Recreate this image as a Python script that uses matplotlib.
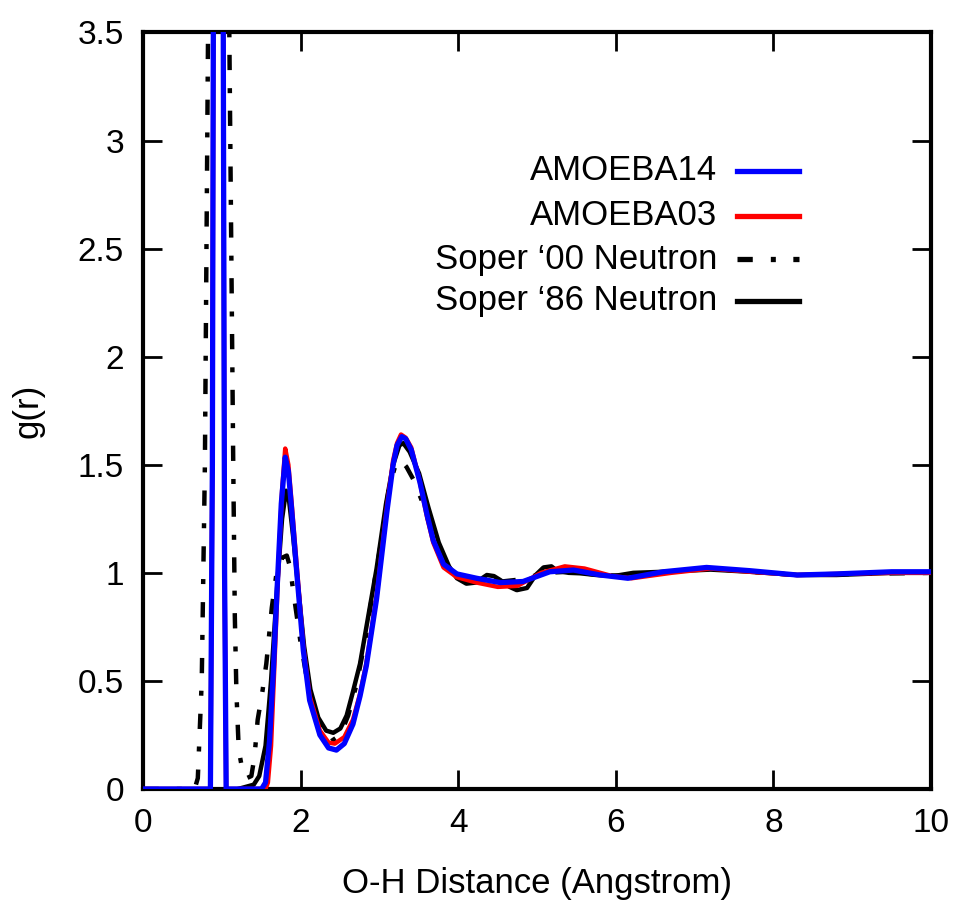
import matplotlib
matplotlib.use("Agg")
import matplotlib.pyplot as plt
from matplotlib.ticker import FuncFormatter

plt.rcParams['font.family'] = ['Liberation Sans', 'DejaVu Sans']
plt.rcParams['lines.scale_dashes'] = False

# AMOEBA14 O-H g(r)
r_a14 = [0, 0.85, 0.875, 0.89, 0.95, 1.01, 1.03, 1.05, 1.50, 1.55, 1.60, 1.65, 1.70,
         1.75, 1.80, 1.84, 1.88, 1.94, 2.03, 2.11, 2.24, 2.35, 2.45, 2.55, 2.66, 2.75,
         2.83, 2.96, 3.09, 3.17, 3.22, 3.28, 3.33, 3.40, 3.51, 3.60, 3.68, 3.81, 3.98,
         4.23, 4.53, 4.82, 5.16, 5.46, 5.80, 6.15, 6.6, 7.15, 7.7, 8.3, 8.8, 9.5, 10.0]
g_a14 = [0, 0, 1.5, 4.0, 12.0, 4.0, 1.0, 0, 0, 0.03, 0.22, 0.55, 0.95,
         1.32, 1.535, 1.47, 1.30, 1.03, 0.64, 0.41, 0.25, 0.19, 0.18, 0.21, 0.30, 0.43,
         0.57, 0.88, 1.28, 1.50, 1.59, 1.63, 1.62, 1.57, 1.42, 1.27, 1.15, 1.04, 0.995,
         0.975, 0.955, 0.96, 1.005, 1.013, 0.99, 0.975, 1.005, 1.025, 1.01, 0.99, 0.995, 1.005, 1.005]

# AMOEBA03
r_a03 = [0, 0.85, 0.875, 0.89, 0.95, 1.01, 1.03, 1.05, 1.55, 1.58, 1.62, 1.66, 1.71,
         1.76, 1.80, 1.84, 1.88, 1.94, 2.03, 2.11, 2.24, 2.35, 2.43, 2.55, 2.66, 2.75,
         2.83, 2.96, 3.09, 3.17, 3.22, 3.27, 3.33, 3.40, 3.51, 3.60, 3.68, 3.81, 3.98,
         4.23, 4.50, 4.75, 5.05, 5.35, 5.6, 5.95, 6.2, 6.7, 7.2, 7.7, 8.3, 8.8, 9.5, 10.0]
g_a03 = [0, 0, 1.5, 4.0, 12.0, 4.0, 1.0, 0, 0, 0.03, 0.20, 0.55, 1.0,
         1.38, 1.575, 1.50, 1.33, 1.06, 0.66, 0.43, 0.27, 0.215, 0.21, 0.24, 0.32, 0.44,
         0.58, 0.89, 1.30, 1.52, 1.60, 1.64, 1.625, 1.58, 1.42, 1.26, 1.14, 1.025, 0.98,
         0.955, 0.935, 0.94, 1.0, 1.03, 1.02, 0.985, 0.975, 1.0, 1.02, 1.005, 0.99, 0.995, 1.0, 1.0]

# Soper 2000 neutron
r_s00 = [0, 0.65, 0.69, 0.74, 0.78, 0.82, 0.85, 0.95, 1.05, 1.09, 1.14, 1.16, 1.18,
         1.21, 1.26, 1.31, 1.37, 1.41, 1.45, 1.51, 1.56, 1.63, 1.69, 1.76, 1.82, 1.86,
         1.90, 1.99, 2.07, 2.15, 2.25, 2.38, 2.50, 2.60, 2.71, 2.82, 2.92, 3.03, 3.12,
         3.21, 3.27, 3.34, 3.43, 3.55, 3.68, 3.82, 3.95, 4.1, 4.3, 4.55, 4.8, 5.1, 5.4,
         5.8, 6.2, 6.7, 7.2, 7.7, 8.3, 9.0, 10.0]
g_s00 = [0, 0, 0.05, 0.5, 1.5, 3.5, 8.0, 14.0, 6.0, 3.5, 1.5, 0.8, 0.45,
         0.18, 0.08, 0.05, 0.06, 0.15, 0.32, 0.45, 0.58, 0.84, 1.0, 1.07, 1.08, 1.03,
         0.92, 0.69, 0.52, 0.38, 0.28, 0.22, 0.25, 0.34, 0.49, 0.70, 0.93, 1.17, 1.40,
         1.51, 1.52, 1.49, 1.43, 1.32, 1.17, 1.05, 0.99, 0.97, 0.965, 0.96, 0.97, 1.0, 1.005,
         0.99, 0.985, 1.005, 1.02, 1.005, 0.99, 0.995, 1.0]

# Soper 1986 neutron
r_s86 = [1.20, 1.40, 1.47, 1.55, 1.62, 1.70, 1.76, 1.81, 1.85, 1.90, 1.96, 2.04, 2.12,
         2.22, 2.32, 2.41, 2.50, 2.58, 2.66, 2.75, 2.85, 2.96, 3.08, 3.17, 3.25, 3.30,
         3.38, 3.50, 3.62, 3.75, 3.88, 3.98, 4.10, 4.22, 4.36, 4.45, 4.53, 4.65, 4.74,
         4.87, 4.98, 5.08, 5.18, 5.25, 5.40, 5.54, 5.75, 5.97, 6.22, 6.6, 7.2, 7.7, 8.3,
         8.8, 9.5, 10.0]
g_s86 = [0, 0.02, 0.06, 0.2, 0.5, 0.95, 1.25, 1.38, 1.33, 1.17, 0.95, 0.66, 0.46,
         0.33, 0.27, 0.26, 0.28, 0.34, 0.45, 0.58, 0.79, 1.02, 1.32, 1.50, 1.59, 1.60,
         1.56, 1.46, 1.30, 1.14, 1.03, 0.975, 0.95, 0.955, 0.99, 0.985, 0.967, 0.935, 0.92,
         0.93, 0.99, 1.025, 1.03, 1.01, 1.0, 0.998, 0.99, 0.985, 1.0, 1.005, 1.015, 1.005, 0.99,
         0.99, 1.0, 1.0]

labels = ["AMOEBA14", "AMOEBA03", "Soper \u201800 Neutron", "Soper \u201886 Neutron"]

fig = plt.figure(figsize=(9.59, 9.07), dpi=100)
ax = fig.add_axes([0.1496, 0.1301, 0.8212, 0.8341])

dashdot = (11, 13, 3.6, 12.6)
styles = [
    dict(color='#0000ff', lw=3.8, zorder=5),
    dict(color='#ff0000', lw=3.2, zorder=4),
    dict(color='black', lw=3.2, dashes=dashdot, zorder=3),
    dict(color='black', lw=3.2, zorder=2),
]
series = [(r_a14, g_a14), (r_a03, g_a03), (r_s00, g_s00), (r_s86, g_s86)]

for (r, g), st in zip(series, styles):
    ax.plot(r, g, solid_joinstyle='round', **st)

ax.set_xlim(0, 10)
ax.set_ylim(0, 3.5)
ax.set_xticks(range(0, 11, 2))
ax.set_yticks([0, 0.5, 1, 1.5, 2, 2.5, 3, 3.5])
ax.yaxis.set_major_formatter(FuncFormatter(lambda v, p: f"{v:g}"))
ax.tick_params(direction='in', length=14, width=2, labelsize=24,
               top=True, right=True)
ax.tick_params(axis='x', pad=14)
ax.tick_params(axis='y', pad=14)
for sp in ax.spines.values():
    sp.set_linewidth(3)

ax.set_xlabel("O-H Distance (Angstrom)", fontsize=25, labelpad=20)
ax.set_ylabel("g(r)", fontsize=25, labelpad=24)

# legend: right-aligned text with line sample on the right
text_x = 0.7283
line_x0, line_x1 = 0.7537, 0.8324
rows = [0.805, 0.7455, 0.688, 0.633]
for lab, st, yb in zip(labels, styles, rows):
    ax.text(text_x, yb, lab, transform=ax.transAxes, ha='right', va='baseline',
            fontsize=25)
    kw = dict(st)
    kw['lw'] = 3.8
    ax.plot([line_x0, line_x1], [yb + 0.012, yb + 0.012], transform=ax.transAxes,
            clip_on=False, **kw)

fig.savefig("out.png", dpi=100)
